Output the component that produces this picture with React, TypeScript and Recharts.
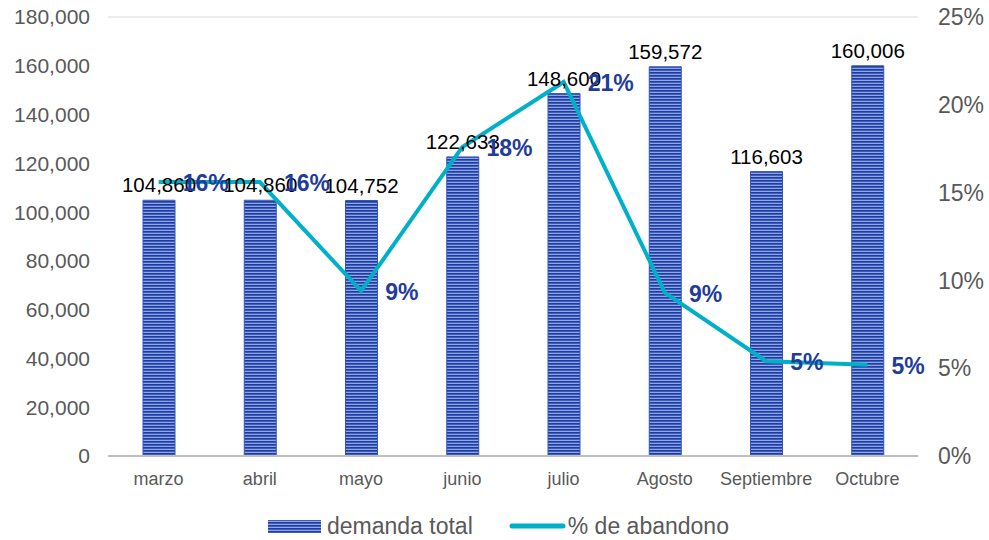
import React from 'react';
import { ComposedChart, Bar, Line, XAxis, YAxis, CartesianGrid, Legend, LabelList } from 'recharts';

const months = ['marzo', 'abril', 'mayo', 'junio', 'julio', 'Agosto', 'Septiembre', 'Octubre'];
const demanda = [104860, 104860, 104752, 122633, 148600, 159572, 116603, 160006];
const abandono = [15.6, 15.6, 9.4, 17.6, 21.3, 9.3, 5.4, 5.2];
const leftTicks = [0, 20000, 40000, 60000, 80000, 100000, 120000, 140000, 160000, 180000];
const rightTicks = [0, 5, 10, 15, 20, 25];

const data = months.map((m, i) => ({ month: m, demanda: demanda[i], abandono: abandono[i] }));

const FONT = '"Liberation Sans", Arial, sans-serif';

// percent label sits to the right of the point
const PctLabel = (props: any) => {
    const { x, y, value } = props;
    return (
        <text x={x + 24} y={y + 9} fill="#1F3C9C" fontSize={23} fontWeight="bold" fontFamily={FONT} textAnchor="start">
            {Math.round(value)}%
        </text>
    );
};

const LegendContent = () => (
    <div style={{ display: 'flex', alignItems: 'center', height: 40, marginTop: 6, paddingLeft: 268, fontFamily: FONT, fontSize: 23, color: '#595959' }}>
        <svg width={53} height={14} style={{ marginRight: 6 }}>
            <rect x={0} y={1} width={53} height={13} fill="url(#stripes)" />
        </svg>
        <span style={{ marginRight: 36 }}>demanda total</span>
        <svg width={57} height={14} style={{ marginRight: 2 }}>
            <line x1={3} y1={7} x2={54} y2={7} stroke="#00B0C8" strokeWidth={5} strokeLinecap="round" />
        </svg>
        <span>% de abandono</span>
    </div>
);

export default function App() {
    return (
        <div style={{ position: 'absolute', left: 0, top: 0, background: '#fff' }}>
            <ComposedChart width={989} height={540} data={data} margin={{ top: 17, right: 0, bottom: 0, left: 0 }}>
                <defs>
                    <pattern id="stripes" patternUnits="userSpaceOnUse" width={4} height={3}>
                        <rect x={0} y={0} width={4} height={3} fill="#8CA6E8" />
                        <rect x={0} y={0} width={4} height={1.7} fill="#1F3CA0" />
                    </pattern>
                </defs>
                <CartesianGrid vertical={false} stroke="#D9D9D9" strokeWidth={1.2} />
                <XAxis
                    dataKey="month"
                    height={44}
                    tickLine={false}
                    axisLine={{ stroke: '#BFBFBF', strokeWidth: 2 }}
                    tick={{ fontSize: 18, fill: '#595959', fontFamily: FONT }}
                    tickMargin={10}
                    interval={0}
                />
                <YAxis
                    yAxisId="left"
                    width={108}
                    domain={[0, 180000]}
                    ticks={leftTicks}
                    tickLine={false}
                    axisLine={false}
                    tickMargin={12}
                    tickFormatter={(v: number) => v.toLocaleString('en-US')}
                    tick={{ fontSize: 21, fill: '#595959', fontFamily: FONT }}
                />
                <YAxis
                    yAxisId="right"
                    orientation="right"
                    width={71}
                    domain={[0, 25]}
                    ticks={rightTicks}
                    tickLine={false}
                    axisLine={false}
                    tickMargin={14}
                    tickFormatter={(v: number) => `${v}%`}
                    tick={{ fontSize: 23, fill: '#595959', fontFamily: FONT, textAnchor: 'start' }}
                />
                <Legend verticalAlign="bottom" height={40} wrapperStyle={{ left: 0, width: 989 }} content={<LegendContent />} />
                <Bar yAxisId="left" dataKey="demanda" fill="url(#stripes)" stroke="#3355B8" strokeWidth={1} barSize={32} isAnimationActive={false}>
                    <LabelList
                        dataKey="demanda"
                        position="top"
                        offset={8}
                        formatter={(v: any) => Number(v).toLocaleString('en-US')}
                        style={{ fontSize: 20.5, fill: '#000', fontFamily: FONT }}
                    />
                </Bar>
                <Line
                    yAxisId="right"
                    type="linear"
                    dataKey="abandono"
                    stroke="#00B0C8"
                    strokeWidth={4}
                    dot={false}
                    isAnimationActive={false}
                >
                    <LabelList dataKey="abandono" content={<PctLabel />} />
                </Line>
            </ComposedChart>
        </div>
    );
}
